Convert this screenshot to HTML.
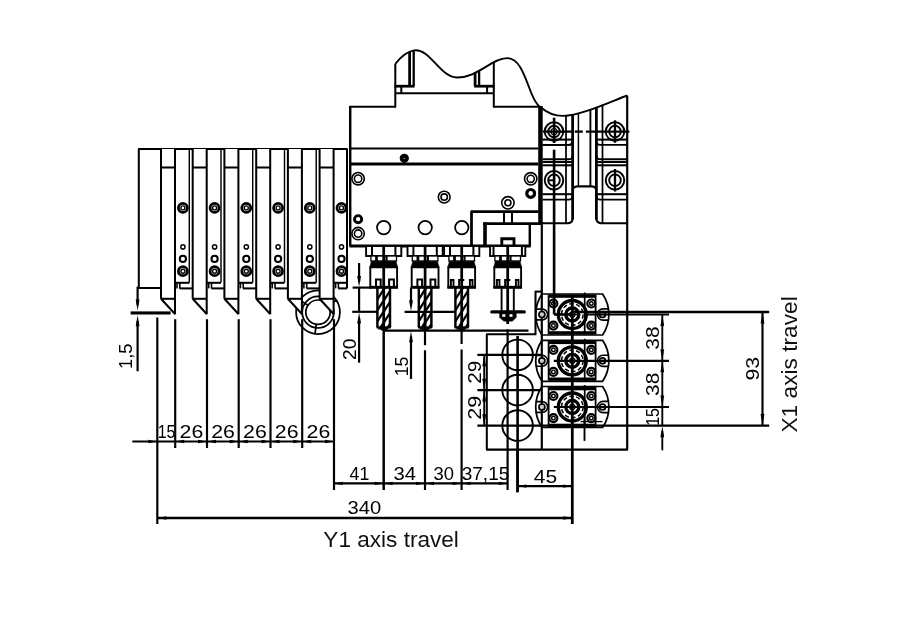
<!DOCTYPE html>
<html lang="en"><head><meta charset="utf-8"><title>Y1 / X1 axis travel – tool layout</title>
<style>
html,body{margin:0;padding:0;background:#fff}
svg{display:block;filter:grayscale(1)}
svg line,svg path,svg circle,svg ellipse,svg rect,svg polygon{stroke-linecap:butt}
text{font-family:"Liberation Sans",sans-serif;fill:#000;stroke:none}
text.t{fill:#111}
</style></head>
<body>
<svg width="899" height="627" viewBox="0 0 899 627" fill="none" stroke="#000">
<rect x="0" y="0" width="899" height="627" fill="#fff" stroke="none"/>
<circle cx="318.0" cy="312.2" r="21.9" stroke-width="1.74" fill="none"/>
<circle cx="318.0" cy="312.2" r="15.8" stroke-width="1.74" fill="none"/>
<circle cx="318.0" cy="312.2" r="12.2" stroke-width="1.74" fill="none"/>
<line x1="316.3" y1="324.3" x2="315.0" y2="333.9" stroke-width="1.74" />
<line x1="307.9" y1="305.4" x2="299.8" y2="300.0" stroke-width="1.74" />
<line x1="328.2" y1="305.6" x2="336.4" y2="300.3" stroke-width="1.74" />
<line x1="138.1" y1="149.0" x2="347.7" y2="149.0" stroke-width="2.03" />
<line x1="138.8" y1="149.0" x2="138.8" y2="288.0" stroke-width="2.03" />
<line x1="137.0" y1="288.0" x2="161.0" y2="288.0" stroke-width="2.03" />
<polygon points="161.0,149.0 175.0,149.0 175.0,314.0 161.0,298.8" stroke-width="0" fill="#fff"/>
<line x1="161.0" y1="149.0" x2="161.0" y2="298.8" stroke-width="2.03" />
<line x1="175.0" y1="149.0" x2="175.0" y2="314.3" stroke-width="2.03" />
<line x1="189.3" y1="149.0" x2="189.3" y2="282.6" stroke-width="1.45" />
<line x1="161.0" y1="167.5" x2="175.0" y2="167.5" stroke-width="2.03" />
<line x1="161.0" y1="298.8" x2="175.0" y2="298.8" stroke-width="2.03" />
<line x1="161.0" y1="298.8" x2="175.0" y2="314.0" stroke-width="2.03" />
<line x1="175.0" y1="282.8" x2="189.3" y2="282.8" stroke-width="2.03" />
<line x1="177.0" y1="282.8" x2="177.0" y2="288.4" stroke-width="1.59" />
<line x1="179.8" y1="282.8" x2="179.8" y2="288.4" stroke-width="1.59" />
<line x1="179.6" y1="288.4" x2="192.7" y2="288.4" stroke-width="2.03" />
<circle cx="182.9" cy="207.9" r="4.5" stroke-width="2.75" fill="none"/>
<circle cx="182.9" cy="207.9" r="2.0" stroke-width="1.38" fill="none"/>
<circle cx="182.9" cy="271.2" r="4.5" stroke-width="2.75" fill="none"/>
<circle cx="182.9" cy="271.2" r="2.0" stroke-width="1.38" fill="none"/>
<circle cx="182.9" cy="246.9" r="2.1" stroke-width="1.45" fill="none"/>
<circle cx="182.9" cy="258.9" r="3.1" stroke-width="2.03" fill="none"/>
<polygon points="192.7,149.0 206.7,149.0 206.7,314.0 192.7,298.8" stroke-width="0" fill="#fff"/>
<line x1="192.7" y1="149.0" x2="192.7" y2="298.8" stroke-width="2.03" />
<line x1="206.7" y1="149.0" x2="206.7" y2="314.3" stroke-width="2.03" />
<line x1="221.0" y1="149.0" x2="221.0" y2="282.6" stroke-width="1.45" />
<line x1="192.7" y1="167.5" x2="206.7" y2="167.5" stroke-width="2.03" />
<line x1="192.7" y1="298.8" x2="206.7" y2="298.8" stroke-width="2.03" />
<line x1="192.7" y1="298.8" x2="206.7" y2="314.0" stroke-width="2.03" />
<line x1="206.7" y1="282.8" x2="221.0" y2="282.8" stroke-width="2.03" />
<line x1="208.7" y1="282.8" x2="208.7" y2="288.4" stroke-width="1.59" />
<line x1="211.5" y1="282.8" x2="211.5" y2="288.4" stroke-width="1.59" />
<line x1="211.3" y1="288.4" x2="224.4" y2="288.4" stroke-width="2.03" />
<circle cx="214.6" cy="207.9" r="4.5" stroke-width="2.75" fill="none"/>
<circle cx="214.6" cy="207.9" r="2.0" stroke-width="1.38" fill="none"/>
<circle cx="214.6" cy="271.2" r="4.5" stroke-width="2.75" fill="none"/>
<circle cx="214.6" cy="271.2" r="2.0" stroke-width="1.38" fill="none"/>
<circle cx="214.6" cy="246.9" r="2.1" stroke-width="1.45" fill="none"/>
<circle cx="214.6" cy="258.9" r="3.1" stroke-width="2.03" fill="none"/>
<polygon points="224.4,149.0 238.4,149.0 238.4,314.0 224.4,298.8" stroke-width="0" fill="#fff"/>
<line x1="224.4" y1="149.0" x2="224.4" y2="298.8" stroke-width="2.03" />
<line x1="238.4" y1="149.0" x2="238.4" y2="314.3" stroke-width="2.03" />
<line x1="252.7" y1="149.0" x2="252.7" y2="282.6" stroke-width="1.45" />
<line x1="224.4" y1="167.5" x2="238.4" y2="167.5" stroke-width="2.03" />
<line x1="224.4" y1="298.8" x2="238.4" y2="298.8" stroke-width="2.03" />
<line x1="224.4" y1="298.8" x2="238.4" y2="314.0" stroke-width="2.03" />
<line x1="238.4" y1="282.8" x2="252.7" y2="282.8" stroke-width="2.03" />
<line x1="240.4" y1="282.8" x2="240.4" y2="288.4" stroke-width="1.59" />
<line x1="243.2" y1="282.8" x2="243.2" y2="288.4" stroke-width="1.59" />
<line x1="243.0" y1="288.4" x2="256.2" y2="288.4" stroke-width="2.03" />
<circle cx="246.3" cy="207.9" r="4.5" stroke-width="2.75" fill="none"/>
<circle cx="246.3" cy="207.9" r="2.0" stroke-width="1.38" fill="none"/>
<circle cx="246.3" cy="271.2" r="4.5" stroke-width="2.75" fill="none"/>
<circle cx="246.3" cy="271.2" r="2.0" stroke-width="1.38" fill="none"/>
<circle cx="246.3" cy="246.9" r="2.1" stroke-width="1.45" fill="none"/>
<circle cx="246.3" cy="258.9" r="3.1" stroke-width="2.03" fill="none"/>
<polygon points="256.2,149.0 270.2,149.0 270.2,314.0 256.2,298.8" stroke-width="0" fill="#fff"/>
<line x1="256.2" y1="149.0" x2="256.2" y2="298.8" stroke-width="2.03" />
<line x1="270.2" y1="149.0" x2="270.2" y2="314.3" stroke-width="2.03" />
<line x1="284.5" y1="149.0" x2="284.5" y2="282.6" stroke-width="1.45" />
<line x1="256.2" y1="167.5" x2="270.2" y2="167.5" stroke-width="2.03" />
<line x1="256.2" y1="298.8" x2="270.2" y2="298.8" stroke-width="2.03" />
<line x1="256.2" y1="298.8" x2="270.2" y2="314.0" stroke-width="2.03" />
<line x1="270.2" y1="282.8" x2="284.5" y2="282.8" stroke-width="2.03" />
<line x1="272.2" y1="282.8" x2="272.2" y2="288.4" stroke-width="1.59" />
<line x1="275.0" y1="282.8" x2="275.0" y2="288.4" stroke-width="1.59" />
<line x1="274.8" y1="288.4" x2="287.9" y2="288.4" stroke-width="2.03" />
<circle cx="278.1" cy="207.9" r="4.5" stroke-width="2.75" fill="none"/>
<circle cx="278.1" cy="207.9" r="2.0" stroke-width="1.38" fill="none"/>
<circle cx="278.1" cy="271.2" r="4.5" stroke-width="2.75" fill="none"/>
<circle cx="278.1" cy="271.2" r="2.0" stroke-width="1.38" fill="none"/>
<circle cx="278.1" cy="246.9" r="2.1" stroke-width="1.45" fill="none"/>
<circle cx="278.1" cy="258.9" r="3.1" stroke-width="2.03" fill="none"/>
<polygon points="287.9,149.0 301.9,149.0 301.9,314.0 287.9,298.8" stroke-width="0" fill="#fff"/>
<line x1="287.9" y1="149.0" x2="287.9" y2="298.8" stroke-width="2.03" />
<line x1="301.9" y1="149.0" x2="301.9" y2="314.3" stroke-width="2.03" />
<line x1="316.2" y1="149.0" x2="316.2" y2="282.6" stroke-width="1.45" />
<line x1="287.9" y1="167.5" x2="301.9" y2="167.5" stroke-width="2.03" />
<line x1="287.9" y1="298.8" x2="301.9" y2="298.8" stroke-width="2.03" />
<line x1="287.9" y1="298.8" x2="301.9" y2="314.0" stroke-width="2.03" />
<line x1="301.9" y1="282.8" x2="316.2" y2="282.8" stroke-width="2.03" />
<line x1="303.9" y1="282.8" x2="303.9" y2="288.4" stroke-width="1.59" />
<line x1="306.7" y1="282.8" x2="306.7" y2="288.4" stroke-width="1.59" />
<line x1="306.5" y1="288.4" x2="319.6" y2="288.4" stroke-width="2.03" />
<circle cx="309.8" cy="207.9" r="4.5" stroke-width="2.75" fill="none"/>
<circle cx="309.8" cy="207.9" r="2.0" stroke-width="1.38" fill="none"/>
<circle cx="309.8" cy="271.2" r="4.5" stroke-width="2.75" fill="none"/>
<circle cx="309.8" cy="271.2" r="2.0" stroke-width="1.38" fill="none"/>
<circle cx="309.8" cy="246.9" r="2.1" stroke-width="1.45" fill="none"/>
<circle cx="309.8" cy="258.9" r="3.1" stroke-width="2.03" fill="none"/>
<polygon points="319.6,149.0 333.6,149.0 333.6,314.0 319.6,298.8" stroke-width="0" fill="#fff"/>
<line x1="319.6" y1="149.0" x2="319.6" y2="298.8" stroke-width="2.03" />
<line x1="333.6" y1="149.0" x2="333.6" y2="314.3" stroke-width="2.03" />
<line x1="319.6" y1="167.5" x2="333.6" y2="167.5" stroke-width="2.03" />
<line x1="319.6" y1="298.8" x2="333.6" y2="298.8" stroke-width="2.03" />
<line x1="319.6" y1="298.8" x2="333.6" y2="314.0" stroke-width="2.03" />
<line x1="333.6" y1="282.8" x2="347.0" y2="282.8" stroke-width="2.03" />
<line x1="335.6" y1="282.8" x2="335.6" y2="288.4" stroke-width="1.59" />
<line x1="338.4" y1="282.8" x2="338.4" y2="288.4" stroke-width="1.59" />
<line x1="338.2" y1="288.4" x2="347.0" y2="288.4" stroke-width="2.03" />
<circle cx="341.5" cy="207.9" r="4.5" stroke-width="2.75" fill="none"/>
<circle cx="341.5" cy="207.9" r="2.0" stroke-width="1.38" fill="none"/>
<circle cx="341.5" cy="271.2" r="4.5" stroke-width="2.75" fill="none"/>
<circle cx="341.5" cy="271.2" r="2.0" stroke-width="1.38" fill="none"/>
<circle cx="341.5" cy="246.9" r="2.1" stroke-width="1.45" fill="none"/>
<circle cx="341.5" cy="258.9" r="3.1" stroke-width="2.03" fill="none"/>
<line x1="347.0" y1="149.0" x2="347.0" y2="288.4" stroke-width="2.03" />
<line x1="350.2" y1="106.0" x2="350.2" y2="246.0" stroke-width="2.46" />
<line x1="349.4" y1="106.7" x2="396.0" y2="106.7" stroke-width="2.03" />
<line x1="395.3" y1="63.8" x2="395.3" y2="107.4" stroke-width="2.03" />
<path d="M395.3,63.8 C400,58 407,51.5 414,50.4 C430,48 440,77.5 457,77.5 C478,77.5 492,58.1 507.2,58.1 C526,58.1 528,100 541,107.5 C548,113.5 556,116 563,115.9 C580,115.5 605,104 627.1,95.5" stroke-width="1.89" fill="none" />
<line x1="409.6" y1="52.0" x2="409.6" y2="86.2" stroke-width="2.75" />
<line x1="413.7" y1="50.4" x2="413.7" y2="86.2" stroke-width="2.32" />
<line x1="394.6" y1="86.2" x2="414.5" y2="86.2" stroke-width="2.75" />
<line x1="401.3" y1="86.2" x2="401.3" y2="93.3" stroke-width="2.03" />
<line x1="395.3" y1="93.3" x2="493.8" y2="93.3" stroke-width="2.03" />
<line x1="475.1" y1="72.5" x2="475.1" y2="86.2" stroke-width="2.75" />
<line x1="479.1" y1="70.5" x2="479.1" y2="86.2" stroke-width="2.32" />
<line x1="474.2" y1="86.2" x2="494.5" y2="86.2" stroke-width="2.75" />
<line x1="487.1" y1="86.2" x2="487.1" y2="93.3" stroke-width="2.03" />
<line x1="493.8" y1="62.0" x2="493.8" y2="107.4" stroke-width="2.03" />
<line x1="493.1" y1="106.7" x2="538.7" y2="106.7" stroke-width="2.03" />
<rect x="538.2" y="106" width="4.5" height="117" fill="#000" stroke="none"/>
<line x1="350.2" y1="148.5" x2="538.2" y2="148.5" stroke-width="1.89" />
<line x1="350.2" y1="164.0" x2="538.2" y2="164.0" stroke-width="2.90" />
<line x1="349.4" y1="246.0" x2="530.5" y2="246.0" stroke-width="2.90" />
<circle cx="404.3" cy="158.3" r="2.6" stroke-width="4.06" fill="none"/>
<circle cx="358.1" cy="178.7" r="6.2" stroke-width="1.59" fill="none"/>
<circle cx="358.1" cy="178.7" r="3.7" stroke-width="1.59" fill="none"/>
<circle cx="358.1" cy="233.6" r="6.2" stroke-width="1.59" fill="none"/>
<circle cx="358.1" cy="233.6" r="3.7" stroke-width="1.59" fill="none"/>
<circle cx="444.2" cy="197.1" r="5.9" stroke-width="1.59" fill="none"/>
<circle cx="444.2" cy="197.1" r="3.2" stroke-width="1.59" fill="none"/>
<circle cx="530.7" cy="178.8" r="6.2" stroke-width="1.59" fill="none"/>
<circle cx="530.7" cy="178.8" r="3.6" stroke-width="1.59" fill="none"/>
<circle cx="507.9" cy="202.8" r="6.2" stroke-width="1.59" fill="none"/>
<circle cx="507.9" cy="202.8" r="3.0" stroke-width="1.59" fill="none"/>
<circle cx="358.1" cy="219.2" r="3.6" stroke-width="2.90" fill="none"/>
<circle cx="530.7" cy="193.4" r="3.9" stroke-width="3.19" fill="none"/>
<circle cx="383.7" cy="227.6" r="6.7" stroke-width="1.74" fill="none"/>
<circle cx="425.2" cy="227.6" r="6.7" stroke-width="1.74" fill="none"/>
<circle cx="461.8" cy="227.6" r="6.7" stroke-width="1.74" fill="none"/>
<line x1="470.6" y1="211.6" x2="538.7" y2="211.6" stroke-width="2.90" />
<line x1="471.5" y1="211.6" x2="471.5" y2="246.0" stroke-width="2.75" />
<rect x="483.2" y="222.4" width="3.6" height="23.6" fill="#000" stroke="none"/>
<line x1="483.2" y1="223.5" x2="541.0" y2="223.5" stroke-width="2.75" />
<line x1="529.8" y1="223.5" x2="529.8" y2="246.8" stroke-width="2.46" />
<line x1="504.0" y1="211.6" x2="504.0" y2="223.5" stroke-width="2.03" />
<line x1="512.0" y1="211.6" x2="512.0" y2="223.5" stroke-width="2.03" />
<path d="M501.8,246 V238.8 H514 V246" stroke-width="2.90" fill="none" />
<rect x="366.1" y="246" width="35.2" height="10" fill="#fff" stroke-width="1.9"/>
<line x1="372.0" y1="246.0" x2="372.0" y2="256.0" stroke-width="2.03" />
<line x1="395.4" y1="246.0" x2="395.4" y2="256.0" stroke-width="2.03" />
<rect x="370.9" y="256" width="25.6" height="5" fill="#fff" stroke-width="1.3"/>
<line x1="376.5" y1="256.0" x2="376.5" y2="261.0" stroke-width="2.75" />
<line x1="386.5" y1="256.0" x2="386.5" y2="261.0" stroke-width="2.17" />
<polygon points="371.4,261.2 396.0,261.2 397.7,267.3 369.7,267.3" stroke-width="0.5" fill="#000"/>
<rect x="370.3" y="267.3" width="26.8" height="20" fill="#fff" stroke-width="1.9"/>
<line x1="369.4" y1="287.3" x2="398.0" y2="287.3" stroke-width="2.90" />
<path d="M376.0,287 V279.6 H380.7 V287" stroke-width="2.03" fill="none" />
<path d="M389.1,287 V279.6 H393.9 V287" stroke-width="2.03" fill="none" />
<clipPath id="c383"><rect x="377.4" y="287.3" width="12.6" height="42.1"/></clipPath>
<g clip-path="url(#c383)">
<line x1="377.4" y1="288.3" x2="383.7" y2="278.3" stroke-width="2.17" />
<line x1="383.7" y1="289.8" x2="390.0" y2="279.8" stroke-width="2.17" />
<line x1="377.4" y1="299.3" x2="383.7" y2="289.3" stroke-width="2.17" />
<line x1="383.7" y1="300.8" x2="390.0" y2="290.8" stroke-width="2.17" />
<line x1="377.4" y1="310.3" x2="383.7" y2="300.3" stroke-width="2.17" />
<line x1="383.7" y1="311.8" x2="390.0" y2="301.8" stroke-width="2.17" />
<line x1="377.4" y1="321.3" x2="383.7" y2="311.3" stroke-width="2.17" />
<line x1="383.7" y1="322.8" x2="390.0" y2="312.8" stroke-width="2.17" />
<line x1="377.4" y1="332.3" x2="383.7" y2="322.3" stroke-width="2.17" />
<line x1="383.7" y1="333.8" x2="390.0" y2="323.8" stroke-width="2.17" />
<line x1="377.4" y1="343.3" x2="383.7" y2="333.3" stroke-width="2.17" />
<line x1="383.7" y1="344.8" x2="390.0" y2="334.8" stroke-width="2.17" />
<line x1="377.4" y1="354.3" x2="383.7" y2="344.3" stroke-width="2.17" />
<line x1="383.7" y1="355.8" x2="390.0" y2="345.8" stroke-width="2.17" />
</g>
<line x1="377.4" y1="287.3" x2="377.4" y2="327.4" stroke-width="2.46" />
<line x1="390.0" y1="287.3" x2="390.0" y2="327.4" stroke-width="2.46" />
<line x1="376.6" y1="327.4" x2="390.8" y2="327.4" stroke-width="2.17" />
<path d="M379.9,327.4 Q383.7,332.9 387.5,327.4" stroke-width="2.03" fill="none" />
<line x1="383.7" y1="245.0" x2="383.7" y2="331.0" stroke-width="2.75" />
<rect x="407.5" y="246" width="35.2" height="10" fill="#fff" stroke-width="1.9"/>
<line x1="413.4" y1="246.0" x2="413.4" y2="256.0" stroke-width="2.03" />
<line x1="436.8" y1="246.0" x2="436.8" y2="256.0" stroke-width="2.03" />
<rect x="412.3" y="256" width="25.6" height="5" fill="#fff" stroke-width="1.3"/>
<line x1="417.9" y1="256.0" x2="417.9" y2="261.0" stroke-width="2.75" />
<line x1="427.9" y1="256.0" x2="427.9" y2="261.0" stroke-width="2.17" />
<polygon points="412.8,261.2 437.4,261.2 439.1,267.3 411.1,267.3" stroke-width="0.5" fill="#000"/>
<rect x="411.7" y="267.3" width="26.8" height="20" fill="#fff" stroke-width="1.9"/>
<line x1="410.8" y1="287.3" x2="439.4" y2="287.3" stroke-width="2.90" />
<path d="M417.4,287 V279.6 H422.1 V287" stroke-width="2.03" fill="none" />
<path d="M430.5,287 V279.6 H435.3 V287" stroke-width="2.03" fill="none" />
<clipPath id="c425"><rect x="418.8" y="287.3" width="12.6" height="42.1"/></clipPath>
<g clip-path="url(#c425)">
<line x1="418.8" y1="288.3" x2="425.1" y2="278.3" stroke-width="2.17" />
<line x1="425.1" y1="289.8" x2="431.4" y2="279.8" stroke-width="2.17" />
<line x1="418.8" y1="299.3" x2="425.1" y2="289.3" stroke-width="2.17" />
<line x1="425.1" y1="300.8" x2="431.4" y2="290.8" stroke-width="2.17" />
<line x1="418.8" y1="310.3" x2="425.1" y2="300.3" stroke-width="2.17" />
<line x1="425.1" y1="311.8" x2="431.4" y2="301.8" stroke-width="2.17" />
<line x1="418.8" y1="321.3" x2="425.1" y2="311.3" stroke-width="2.17" />
<line x1="425.1" y1="322.8" x2="431.4" y2="312.8" stroke-width="2.17" />
<line x1="418.8" y1="332.3" x2="425.1" y2="322.3" stroke-width="2.17" />
<line x1="425.1" y1="333.8" x2="431.4" y2="323.8" stroke-width="2.17" />
<line x1="418.8" y1="343.3" x2="425.1" y2="333.3" stroke-width="2.17" />
<line x1="425.1" y1="344.8" x2="431.4" y2="334.8" stroke-width="2.17" />
<line x1="418.8" y1="354.3" x2="425.1" y2="344.3" stroke-width="2.17" />
<line x1="425.1" y1="355.8" x2="431.4" y2="345.8" stroke-width="2.17" />
</g>
<line x1="418.8" y1="287.3" x2="418.8" y2="327.4" stroke-width="2.46" />
<line x1="431.4" y1="287.3" x2="431.4" y2="327.4" stroke-width="2.46" />
<line x1="418.0" y1="327.4" x2="432.2" y2="327.4" stroke-width="2.17" />
<path d="M421.3,327.4 Q425.1,332.9 428.9,327.4" stroke-width="2.03" fill="none" />
<line x1="425.1" y1="245.0" x2="425.1" y2="331.0" stroke-width="2.75" />
<rect x="444.1" y="246" width="35.2" height="10" fill="#fff" stroke-width="1.9"/>
<line x1="450.0" y1="246.0" x2="450.0" y2="256.0" stroke-width="2.03" />
<line x1="473.4" y1="246.0" x2="473.4" y2="256.0" stroke-width="2.03" />
<rect x="448.9" y="256" width="25.6" height="5" fill="#fff" stroke-width="1.3"/>
<line x1="454.5" y1="256.0" x2="454.5" y2="261.0" stroke-width="2.75" />
<line x1="464.5" y1="256.0" x2="464.5" y2="261.0" stroke-width="2.17" />
<polygon points="449.4,261.2 474.0,261.2 475.7,267.3 447.7,267.3" stroke-width="0.5" fill="#000"/>
<rect x="448.3" y="267.3" width="26.8" height="20" fill="#fff" stroke-width="1.9"/>
<line x1="447.4" y1="287.3" x2="476.0" y2="287.3" stroke-width="2.90" />
<path d="M450.9,287 V280 H453.5 V287" stroke-width="1.89" fill="none" />
<path d="M459.1,287 V280 H464.3" stroke-width="1.89" fill="none" />
<path d="M469.9,287 V280 H472.5 V287" stroke-width="1.89" fill="none" />
<clipPath id="c461"><rect x="455.4" y="287.3" width="12.6" height="42.1"/></clipPath>
<g clip-path="url(#c461)">
<line x1="455.4" y1="288.3" x2="461.7" y2="278.3" stroke-width="2.17" />
<line x1="461.7" y1="289.8" x2="468.0" y2="279.8" stroke-width="2.17" />
<line x1="455.4" y1="299.3" x2="461.7" y2="289.3" stroke-width="2.17" />
<line x1="461.7" y1="300.8" x2="468.0" y2="290.8" stroke-width="2.17" />
<line x1="455.4" y1="310.3" x2="461.7" y2="300.3" stroke-width="2.17" />
<line x1="461.7" y1="311.8" x2="468.0" y2="301.8" stroke-width="2.17" />
<line x1="455.4" y1="321.3" x2="461.7" y2="311.3" stroke-width="2.17" />
<line x1="461.7" y1="322.8" x2="468.0" y2="312.8" stroke-width="2.17" />
<line x1="455.4" y1="332.3" x2="461.7" y2="322.3" stroke-width="2.17" />
<line x1="461.7" y1="333.8" x2="468.0" y2="323.8" stroke-width="2.17" />
<line x1="455.4" y1="343.3" x2="461.7" y2="333.3" stroke-width="2.17" />
<line x1="461.7" y1="344.8" x2="468.0" y2="334.8" stroke-width="2.17" />
<line x1="455.4" y1="354.3" x2="461.7" y2="344.3" stroke-width="2.17" />
<line x1="461.7" y1="355.8" x2="468.0" y2="345.8" stroke-width="2.17" />
</g>
<line x1="455.4" y1="287.3" x2="455.4" y2="327.4" stroke-width="2.46" />
<line x1="468.0" y1="287.3" x2="468.0" y2="327.4" stroke-width="2.46" />
<line x1="454.6" y1="327.4" x2="468.8" y2="327.4" stroke-width="2.17" />
<path d="M457.9,327.4 Q461.7,332.9 465.5,327.4" stroke-width="2.03" fill="none" />
<line x1="461.7" y1="245.0" x2="461.7" y2="331.0" stroke-width="2.75" />
<rect x="490.1" y="246" width="35.2" height="10" fill="#fff" stroke-width="1.9"/>
<line x1="493.5" y1="246.0" x2="493.5" y2="256.0" stroke-width="2.03" />
<line x1="521.9" y1="246.0" x2="521.9" y2="256.0" stroke-width="2.03" />
<rect x="494.9" y="256" width="25.6" height="5" fill="#fff" stroke-width="1.3"/>
<line x1="500.5" y1="256.0" x2="500.5" y2="261.0" stroke-width="2.75" />
<line x1="510.5" y1="256.0" x2="510.5" y2="261.0" stroke-width="2.17" />
<polygon points="495.4,261.2 520.0,261.2 521.7,267.3 493.7,267.3" stroke-width="0.5" fill="#000"/>
<rect x="494.3" y="267.3" width="26.8" height="20" fill="#fff" stroke-width="1.9"/>
<line x1="493.4" y1="287.3" x2="522.0" y2="287.3" stroke-width="2.90" />
<path d="M496.9,287 V280 H499.5 V287" stroke-width="1.89" fill="none" />
<path d="M505.1,287 V280 H510.3" stroke-width="1.89" fill="none" />
<path d="M515.9,287 V280 H518.5 V287" stroke-width="1.89" fill="none" />
<line x1="501.6" y1="287.3" x2="501.6" y2="310.8" stroke-width="1.89" />
<line x1="513.8" y1="287.3" x2="513.8" y2="310.8" stroke-width="1.89" />
<line x1="507.7" y1="245.0" x2="507.7" y2="324.0" stroke-width="2.75" />
<rect x="490.2" y="310.2" width="35.7" height="3.4" rx="1.7" fill="#000" stroke="none"/>
<polygon points="499.5,313.0 516.3,313.0 516.3,317.6 512.3,321.2 503.9,321.2 499.5,317.6" stroke-width="0.4" fill="#000"/>
<rect x="502.3" y="314.2" width="3.0" height="2.6" fill="#fff" stroke="none"/>
<rect x="509.5" y="314.2" width="3.0" height="2.6" fill="#fff" stroke="none"/>
<line x1="627.2" y1="95.5" x2="627.2" y2="449.6" stroke-width="2.17" />
<line x1="541.8" y1="222.0" x2="541.8" y2="449.6" stroke-width="2.17" />
<line x1="554.1" y1="117.7" x2="554.1" y2="143.0" stroke-width="2.61" />
<line x1="554.1" y1="149.7" x2="554.1" y2="314.4" stroke-width="2.61" />
<line x1="566.0" y1="115.6" x2="566.0" y2="223.0" stroke-width="1.74" />
<line x1="572.6" y1="114.6" x2="572.6" y2="219.5" stroke-width="2.75" />
<line x1="578.4" y1="113.2" x2="578.4" y2="186.4" stroke-width="1.45" />
<line x1="590.4" y1="109.2" x2="590.4" y2="186.4" stroke-width="1.89" />
<line x1="596.4" y1="107.0" x2="596.4" y2="219.5" stroke-width="2.75" />
<line x1="602.5" y1="104.6" x2="602.5" y2="223.0" stroke-width="1.74" />
<path d="M572.6,190.5 Q573,186.6 577.2,186.4 H591.8 Q596,186.6 596.4,190.5" stroke-width="2.32" fill="none" />
<path d="M542.5,144.9 H569 Q572.6,144.9 572.6,141.3" stroke-width="1.89" fill="none" />
<line x1="542.5" y1="139.6" x2="572.6" y2="139.6" stroke-width="2.03" />
<line x1="596.4" y1="139.6" x2="627.2" y2="139.6" stroke-width="2.03" />
<line x1="542.5" y1="162.0" x2="572.6" y2="162.0" stroke-width="2.03" />
<line x1="596.4" y1="162.0" x2="627.2" y2="162.0" stroke-width="2.03" />
<line x1="542.5" y1="165.3" x2="572.6" y2="165.3" stroke-width="2.03" />
<line x1="596.4" y1="165.3" x2="627.2" y2="165.3" stroke-width="2.03" />
<line x1="542.5" y1="194.2" x2="572.6" y2="194.2" stroke-width="2.03" />
<line x1="596.4" y1="194.2" x2="627.2" y2="194.2" stroke-width="2.03" />
<path d="M542.5,144.9 H569.2 Q572.6,144.6 572.6,141.2" stroke-width="1.89" fill="none" />
<path d="M542.5,159.3 H569.2 Q572.6,159.0 572.6,155.5" stroke-width="1.89" fill="none" />
<path d="M627.2,144.9 H599.8 Q596.4,144.6 596.4,141.2" stroke-width="1.89" fill="none" />
<path d="M627.2,159.3 H599.8 Q596.4,159.0 596.4,155.5" stroke-width="1.89" fill="none" />
<path d="M542.5,199.6 H569.2 Q572.6,199.3 572.6,196.0" stroke-width="1.89" fill="none" />
<path d="M627.2,199.6 H599.8 Q596.4,199.3 596.4,196.0" stroke-width="1.89" fill="none" />
<path d="M542.5,223.2 H568.0 Q572.6,222.8 572.6,218.5" stroke-width="2.03" fill="none" />
<path d="M627.2,223.2 H601.0 Q596.4,222.8 596.4,218.5" stroke-width="2.03" fill="none" />
<circle cx="554.0" cy="131.6" r="9.3" stroke-width="1.89" fill="none"/>
<circle cx="554.0" cy="131.6" r="5.8" stroke-width="1.89" fill="none"/>
<circle cx="615.0" cy="131.6" r="9.3" stroke-width="1.89" fill="none"/>
<circle cx="615.0" cy="131.6" r="5.8" stroke-width="1.89" fill="none"/>
<circle cx="554.0" cy="131.6" r="3.1" stroke-width="1.16" fill="none"/>
<line x1="615.0" y1="120.3" x2="615.0" y2="142.8" stroke-width="2.32" />
<line x1="543.0" y1="131.6" x2="571.8" y2="131.6" stroke-width="2.32" />
<line x1="574.8" y1="131.6" x2="582.8" y2="131.6" stroke-width="2.32" />
<line x1="585.9" y1="131.6" x2="629.4" y2="131.6" stroke-width="2.32" />
<circle cx="554.0" cy="180.3" r="9.3" stroke-width="1.89" fill="none"/>
<circle cx="554.0" cy="180.3" r="5.8" stroke-width="1.89" fill="none"/>
<circle cx="615.0" cy="180.3" r="9.3" stroke-width="1.89" fill="none"/>
<circle cx="615.0" cy="180.3" r="5.8" stroke-width="1.89" fill="none"/>
<line x1="549.0" y1="180.3" x2="554.0" y2="180.3" stroke-width="1.89" />
<line x1="615.0" y1="169.0" x2="615.0" y2="191.5" stroke-width="2.32" />
<line x1="534.8" y1="291.6" x2="541.8" y2="291.6" stroke-width="2.03" />
<path d="M542.0,294.0 H602.6 A36.6,36.6 0 0 1 602.6,335.0 H542.0 A36.6,36.6 0 0 1 542.0,294.0 Z" stroke-width="1.74" fill="none" />
<rect x="548.6" y="295.6" width="47" height="37.8" fill="none" stroke-width="1.8"/>
<rect x="549" y="294.6" width="46.4" height="3.2" fill="#000" stroke="none"/>
<rect x="549" y="331.2" width="46.4" height="3.2" fill="#000" stroke="none"/>
<line x1="584.7" y1="292.5" x2="584.7" y2="335.0" stroke-width="1.74" />
<circle cx="553.4" cy="303.5" r="4.0" stroke-width="2.17" fill="none"/>
<circle cx="553.4" cy="303.5" r="1.8" stroke-width="1.45" fill="none"/>
<circle cx="553.4" cy="325.6" r="4.0" stroke-width="2.17" fill="none"/>
<circle cx="553.4" cy="325.6" r="1.8" stroke-width="1.45" fill="none"/>
<circle cx="591.3" cy="303.5" r="4.0" stroke-width="2.17" fill="none"/>
<circle cx="591.3" cy="303.5" r="1.8" stroke-width="1.45" fill="none"/>
<circle cx="591.3" cy="325.6" r="4.0" stroke-width="2.17" fill="none"/>
<circle cx="591.3" cy="325.6" r="1.8" stroke-width="1.45" fill="none"/>
<circle cx="572.3" cy="314.5" r="14.0" stroke-width="3.33" fill="none"/>
<circle cx="572.3" cy="314.5" r="10.8" stroke-width="1.5" fill="none" stroke-dasharray="4.2 2.6"/>
<circle cx="572.3" cy="314.5" r="6.5" stroke-width="3.33" fill="none"/>
<circle cx="572.3" cy="314.5" r="2.6" stroke-width="1.30" fill="none"/>
<line x1="567.3" y1="314.5" x2="577.3" y2="314.5" stroke-width="1.45" />
<path d="M608.7,308.9 H603.0 A5.6,5.6 0 0 0 603.0,320.1 H608.7" stroke-width="1.59" fill="none" />
<circle cx="602.5" cy="314.5" r="3.0" stroke-width="1.7" fill="#ccc"/>
<path d="M535.9,309.1 H542.2 A5.4,5.4 0 0 1 542.2,319.9 H535.9" stroke-width="1.59" fill="none" />
<circle cx="541.9" cy="314.5" r="3.0" stroke-width="1.7" fill="#ccc"/>
<path d="M542.0,340.3 H602.6 A36.6,36.6 0 0 1 602.6,381.3 H542.0 A36.6,36.6 0 0 1 542.0,340.3 Z" stroke-width="1.74" fill="none" />
<rect x="548.6" y="341.9" width="47" height="37.8" fill="none" stroke-width="1.8"/>
<rect x="549" y="340.9" width="46.4" height="3.2" fill="#000" stroke="none"/>
<rect x="549" y="377.5" width="46.4" height="3.2" fill="#000" stroke="none"/>
<line x1="584.7" y1="338.8" x2="584.7" y2="381.3" stroke-width="1.74" />
<circle cx="553.4" cy="349.8" r="4.0" stroke-width="2.17" fill="none"/>
<circle cx="553.4" cy="349.8" r="1.8" stroke-width="1.45" fill="none"/>
<circle cx="553.4" cy="371.9" r="4.0" stroke-width="2.17" fill="none"/>
<circle cx="553.4" cy="371.9" r="1.8" stroke-width="1.45" fill="none"/>
<circle cx="591.3" cy="349.8" r="4.0" stroke-width="2.17" fill="none"/>
<circle cx="591.3" cy="349.8" r="1.8" stroke-width="1.45" fill="none"/>
<circle cx="591.3" cy="371.9" r="4.0" stroke-width="2.17" fill="none"/>
<circle cx="591.3" cy="371.9" r="1.8" stroke-width="1.45" fill="none"/>
<circle cx="572.3" cy="360.8" r="14.0" stroke-width="3.33" fill="none"/>
<circle cx="572.3" cy="360.8" r="10.8" stroke-width="1.5" fill="none" stroke-dasharray="4.2 2.6"/>
<circle cx="572.3" cy="360.8" r="6.5" stroke-width="3.33" fill="none"/>
<circle cx="572.3" cy="360.8" r="2.6" stroke-width="1.30" fill="none"/>
<line x1="567.3" y1="360.8" x2="577.3" y2="360.8" stroke-width="1.45" />
<path d="M608.7,355.2 H603.0 A5.6,5.6 0 0 0 603.0,366.4 H608.7" stroke-width="1.59" fill="none" />
<circle cx="602.5" cy="360.8" r="3.0" stroke-width="1.7" fill="#ccc"/>
<path d="M535.9,355.4 H542.2 A5.4,5.4 0 0 1 542.2,366.2 H535.9" stroke-width="1.59" fill="none" />
<circle cx="541.9" cy="360.8" r="3.0" stroke-width="1.7" fill="#ccc"/>
<path d="M542.0,386.5 H602.6 A36.6,36.6 0 0 1 602.6,427.5 H542.0 A36.6,36.6 0 0 1 542.0,386.5 Z" stroke-width="1.74" fill="none" />
<rect x="548.6" y="388.1" width="47" height="37.8" fill="none" stroke-width="1.8"/>
<rect x="549" y="387.1" width="46.4" height="3.2" fill="#000" stroke="none"/>
<rect x="549" y="423.7" width="46.4" height="3.2" fill="#000" stroke="none"/>
<line x1="584.7" y1="385.0" x2="584.7" y2="427.5" stroke-width="1.74" />
<circle cx="553.4" cy="396.0" r="4.0" stroke-width="2.17" fill="none"/>
<circle cx="553.4" cy="396.0" r="1.8" stroke-width="1.45" fill="none"/>
<circle cx="553.4" cy="418.1" r="4.0" stroke-width="2.17" fill="none"/>
<circle cx="553.4" cy="418.1" r="1.8" stroke-width="1.45" fill="none"/>
<circle cx="591.3" cy="396.0" r="4.0" stroke-width="2.17" fill="none"/>
<circle cx="591.3" cy="396.0" r="1.8" stroke-width="1.45" fill="none"/>
<circle cx="591.3" cy="418.1" r="4.0" stroke-width="2.17" fill="none"/>
<circle cx="591.3" cy="418.1" r="1.8" stroke-width="1.45" fill="none"/>
<circle cx="572.3" cy="407.0" r="14.0" stroke-width="3.33" fill="none"/>
<circle cx="572.3" cy="407.0" r="10.8" stroke-width="1.5" fill="none" stroke-dasharray="4.2 2.6"/>
<circle cx="572.3" cy="407.0" r="6.5" stroke-width="3.33" fill="none"/>
<circle cx="572.3" cy="407.0" r="2.6" stroke-width="1.30" fill="none"/>
<line x1="567.3" y1="407.0" x2="577.3" y2="407.0" stroke-width="1.45" />
<path d="M608.7,401.4 H603.0 A5.6,5.6 0 0 0 603.0,412.6 H608.7" stroke-width="1.59" fill="none" />
<circle cx="602.5" cy="407.0" r="3.0" stroke-width="1.7" fill="#ccc"/>
<path d="M535.9,401.6 H542.2 A5.4,5.4 0 0 1 542.2,412.4 H535.9" stroke-width="1.59" fill="none" />
<circle cx="541.9" cy="407.0" r="3.0" stroke-width="1.7" fill="#ccc"/>
<line x1="572.3" y1="294.5" x2="572.3" y2="524.0" stroke-width="2.75" />
<line x1="554.1" y1="314.5" x2="572.3" y2="314.5" stroke-width="2.61" />
<line x1="486.8" y1="334.2" x2="486.8" y2="449.6" stroke-width="2.03" />
<line x1="486.1" y1="334.2" x2="536.3" y2="334.2" stroke-width="2.03" />
<line x1="535.5" y1="291.6" x2="535.5" y2="334.2" stroke-width="2.03" />
<line x1="486.1" y1="449.6" x2="627.9" y2="449.6" stroke-width="2.17" />
<circle cx="517.6" cy="354.9" r="15.3" stroke-width="1.89" fill="none"/>
<circle cx="517.6" cy="390.1" r="15.3" stroke-width="1.89" fill="none"/>
<circle cx="517.6" cy="425.6" r="15.3" stroke-width="1.89" fill="none"/>
<line x1="517.6" y1="336.0" x2="517.6" y2="492.0" stroke-width="2.61" />
<line x1="477.4" y1="354.9" x2="541.8" y2="354.9" stroke-width="2.17" />
<line x1="477.4" y1="390.1" x2="541.8" y2="390.1" stroke-width="2.17" />
<line x1="477.4" y1="425.6" x2="541.8" y2="425.6" stroke-width="2.17" />
<line x1="541.8" y1="425.6" x2="769.2" y2="425.6" stroke-width="2.32" />
<line x1="584.5" y1="418.8" x2="584.5" y2="440.9" stroke-width="1.89" />
<line x1="580.6" y1="421.6" x2="602.5" y2="421.6" stroke-width="1.30" />
<rect x="130.6" y="311.4" width="40" height="3.1" fill="#000" stroke="none"/>
<line x1="137.6" y1="286.7" x2="137.6" y2="305.0" stroke-width="2.17" />
<polygon points="137.6,310.6 135.7,299.6 139.5,299.6" fill="#000" stroke="none"/>
<line x1="137.6" y1="321.0" x2="137.6" y2="371.3" stroke-width="2.17" />
<polygon points="137.6,315.2 139.5,326.2 135.7,326.2" fill="#000" stroke="none"/>
<text class="d" x="132.3" y="356.2" font-size="18.2" text-anchor="middle" textLength="25.6" lengthAdjust="spacingAndGlyphs" transform="rotate(-90 132.3 356.2)">1,5</text>
<line x1="157.3" y1="317.5" x2="157.3" y2="524.0" stroke-width="2.17" />
<line x1="175.2" y1="319.2" x2="175.2" y2="448.0" stroke-width="2.17" />
<line x1="207.0" y1="319.2" x2="207.0" y2="448.0" stroke-width="2.17" />
<line x1="238.7" y1="319.2" x2="238.7" y2="448.0" stroke-width="2.17" />
<line x1="270.5" y1="319.2" x2="270.5" y2="448.0" stroke-width="2.17" />
<line x1="302.2" y1="319.2" x2="302.2" y2="448.0" stroke-width="2.17" />
<line x1="334.0" y1="319.2" x2="334.0" y2="490.0" stroke-width="2.17" />
<line x1="132.3" y1="441.5" x2="334.0" y2="441.5" stroke-width="2.17" />
<polygon points="157.3,441.5 148.3,443.2 148.3,439.8" fill="#000" stroke="none"/>
<polygon points="175.2,441.5 184.2,439.8 184.2,443.2" fill="#000" stroke="none"/>
<polygon points="207.0,441.5 198.0,443.2 198.0,439.8" fill="#000" stroke="none"/>
<text class="d" x="191.4" y="438.0" font-size="18.2" text-anchor="middle" textLength="23.7" lengthAdjust="spacingAndGlyphs">26</text>
<polygon points="207.0,441.5 216.0,439.8 216.0,443.2" fill="#000" stroke="none"/>
<polygon points="238.7,441.5 229.7,443.2 229.7,439.8" fill="#000" stroke="none"/>
<text class="d" x="223.1" y="438.0" font-size="18.2" text-anchor="middle" textLength="23.7" lengthAdjust="spacingAndGlyphs">26</text>
<polygon points="238.7,441.5 247.7,439.8 247.7,443.2" fill="#000" stroke="none"/>
<polygon points="270.5,441.5 261.5,443.2 261.5,439.8" fill="#000" stroke="none"/>
<text class="d" x="254.9" y="438.0" font-size="18.2" text-anchor="middle" textLength="23.7" lengthAdjust="spacingAndGlyphs">26</text>
<polygon points="270.5,441.5 279.5,439.8 279.5,443.2" fill="#000" stroke="none"/>
<polygon points="302.2,441.5 293.2,443.2 293.2,439.8" fill="#000" stroke="none"/>
<text class="d" x="286.7" y="438.0" font-size="18.2" text-anchor="middle" textLength="23.7" lengthAdjust="spacingAndGlyphs">26</text>
<polygon points="302.2,441.5 311.2,439.8 311.2,443.2" fill="#000" stroke="none"/>
<polygon points="334.0,441.5 325.0,443.2 325.0,439.8" fill="#000" stroke="none"/>
<text class="d" x="318.4" y="438.0" font-size="18.2" text-anchor="middle" textLength="23.7" lengthAdjust="spacingAndGlyphs">26</text>
<text class="d" x="166.6" y="438.0" font-size="18.2" text-anchor="middle" textLength="17.7" lengthAdjust="spacingAndGlyphs">15</text>
<line x1="352.6" y1="287.6" x2="371.0" y2="287.6" stroke-width="2.17" />
<line x1="352.2" y1="311.8" x2="377.4" y2="311.8" stroke-width="2.17" />
<line x1="359.1" y1="263.0" x2="359.1" y2="282.0" stroke-width="2.17" />
<polygon points="359.1,287.0 357.2,276.0 361.0,276.0" fill="#000" stroke="none"/>
<line x1="359.1" y1="287.6" x2="359.1" y2="311.8" stroke-width="2.17" />
<line x1="359.1" y1="318.0" x2="359.1" y2="362.7" stroke-width="2.17" />
<polygon points="359.1,312.4 361.0,323.4 357.2,323.4" fill="#000" stroke="none"/>
<text class="d" x="356.3" y="349.3" font-size="18.2" text-anchor="middle" textLength="21.3" lengthAdjust="spacingAndGlyphs" transform="rotate(-90 356.3 349.3)">20</text>
<line x1="404.6" y1="311.8" x2="455.6" y2="311.8" stroke-width="2.17" />
<line x1="383.7" y1="330.7" x2="528.5" y2="330.7" stroke-width="2.17" />
<line x1="411.0" y1="287.6" x2="411.0" y2="306.0" stroke-width="2.17" />
<polygon points="411.0,311.2 409.1,300.2 412.9,300.2" fill="#000" stroke="none"/>
<line x1="411.0" y1="336.5" x2="411.0" y2="378.9" stroke-width="2.17" />
<polygon points="411.0,331.3 412.9,342.3 409.1,342.3" fill="#000" stroke="none"/>
<text class="d" x="408.2" y="366.4" font-size="18.2" text-anchor="middle" textLength="19.7" lengthAdjust="spacingAndGlyphs" transform="rotate(-90 408.2 366.4)">15</text>
<line x1="383.7" y1="331.0" x2="383.7" y2="490.0" stroke-width="2.46" />
<line x1="425.0" y1="331.0" x2="425.0" y2="345.2" stroke-width="2.17" />
<line x1="425.0" y1="350.2" x2="425.0" y2="490.0" stroke-width="2.17" />
<line x1="461.6" y1="331.0" x2="461.6" y2="344.0" stroke-width="2.17" />
<line x1="461.6" y1="349.5" x2="461.6" y2="490.0" stroke-width="2.17" />
<line x1="507.6" y1="329.2" x2="507.6" y2="490.0" stroke-width="2.17" />
<line x1="517.4" y1="449.6" x2="517.4" y2="492.5" stroke-width="2.17" />
<line x1="484.2" y1="354.9" x2="484.2" y2="425.6" stroke-width="1.89" />
<polygon points="484.2,355.3 486.1,366.3 482.3,366.3" fill="#000" stroke="none"/>
<polygon points="484.2,389.7 482.3,378.7 486.1,378.7" fill="#000" stroke="none"/>
<polygon points="484.2,390.5 486.1,401.5 482.3,401.5" fill="#000" stroke="none"/>
<polygon points="484.2,425.2 482.3,414.2 486.1,414.2" fill="#000" stroke="none"/>
<text class="d" x="480.7" y="372.2" font-size="18.2" text-anchor="middle" textLength="23.2" lengthAdjust="spacingAndGlyphs" transform="rotate(-90 480.7 372.2)">29</text>
<text class="d" x="480.7" y="407.8" font-size="18.2" text-anchor="middle" textLength="23.9" lengthAdjust="spacingAndGlyphs" transform="rotate(-90 480.7 407.8)">29</text>
<line x1="333.9" y1="483.4" x2="507.6" y2="483.4" stroke-width="2.17" />
<polygon points="333.9,483.4 342.9,481.7 342.9,485.1" fill="#000" stroke="none"/>
<polygon points="383.7,483.4 374.7,485.1 374.7,481.7" fill="#000" stroke="none"/>
<polygon points="383.7,483.4 392.7,481.7 392.7,485.1" fill="#000" stroke="none"/>
<polygon points="425.0,483.4 416.0,485.1 416.0,481.7" fill="#000" stroke="none"/>
<polygon points="425.0,483.4 434.0,481.7 434.0,485.1" fill="#000" stroke="none"/>
<polygon points="461.6,483.4 452.6,485.1 452.6,481.7" fill="#000" stroke="none"/>
<polygon points="461.6,483.4 470.6,481.7 470.6,485.1" fill="#000" stroke="none"/>
<polygon points="507.6,483.4 498.6,485.1 498.6,481.7" fill="#000" stroke="none"/>
<text class="d" x="359.4" y="480.4" font-size="18.2" text-anchor="middle" textLength="19.7" lengthAdjust="spacingAndGlyphs">41</text>
<text class="d" x="404.8" y="480.4" font-size="18.2" text-anchor="middle" textLength="22.5" lengthAdjust="spacingAndGlyphs">34</text>
<text class="d" x="443.7" y="480.4" font-size="18.2" text-anchor="middle" textLength="20.5" lengthAdjust="spacingAndGlyphs">30</text>
<text class="d" x="485.5" y="480.4" font-size="18.2" text-anchor="middle" textLength="47.5" lengthAdjust="spacingAndGlyphs">37,15</text>
<line x1="517.4" y1="486.1" x2="572.3" y2="486.1" stroke-width="2.17" />
<polygon points="517.4,486.1 526.4,484.4 526.4,487.8" fill="#000" stroke="none"/>
<polygon points="572.3,486.1 563.3,487.8 563.3,484.4" fill="#000" stroke="none"/>
<text class="d" x="545.5" y="482.6" font-size="18.2" text-anchor="middle" textLength="23.3" lengthAdjust="spacingAndGlyphs">45</text>
<line x1="157.3" y1="518.0" x2="572.3" y2="518.0" stroke-width="2.32" />
<polygon points="157.3,518.0 166.3,516.3 166.3,519.7" fill="#000" stroke="none"/>
<polygon points="572.3,518.0 563.3,519.7 563.3,516.3" fill="#000" stroke="none"/>
<text class="d" x="364.3" y="514.4" font-size="18.2" text-anchor="middle" textLength="33.7" lengthAdjust="spacingAndGlyphs">340</text>
<text class="t" x="391.1" y="546.8" font-size="21.6" text-anchor="middle" textLength="135.5" lengthAdjust="spacingAndGlyphs">Y1 axis travel</text>
<line x1="572.3" y1="311.9" x2="769.2" y2="311.9" stroke-width="2.46" />
<line x1="584.7" y1="314.5" x2="669.0" y2="314.5" stroke-width="1.89" />
<line x1="553.8" y1="360.8" x2="669.0" y2="360.8" stroke-width="2.17" />
<line x1="553.8" y1="407.0" x2="669.0" y2="407.0" stroke-width="2.17" />
<line x1="662.3" y1="314.5" x2="662.3" y2="407.0" stroke-width="1.89" />
<polygon points="662.3,315.0 664.2,326.0 660.4,326.0" fill="#000" stroke="none"/>
<polygon points="662.3,360.4 660.4,349.4 664.2,349.4" fill="#000" stroke="none"/>
<polygon points="662.3,361.2 664.2,372.2 660.4,372.2" fill="#000" stroke="none"/>
<polygon points="662.3,406.6 660.4,395.6 664.2,395.6" fill="#000" stroke="none"/>
<line x1="662.3" y1="431.0" x2="662.3" y2="450.3" stroke-width="1.89" />
<polygon points="662.3,426.2 664.2,437.2 660.4,437.2" fill="#000" stroke="none"/>
<line x1="662.3" y1="407.0" x2="662.3" y2="425.6" stroke-width="1.89" />
<text class="d" x="659.0" y="338.1" font-size="18.2" text-anchor="middle" textLength="23.3" lengthAdjust="spacingAndGlyphs" transform="rotate(-90 659.0 338.1)">38</text>
<text class="d" x="659.0" y="384.3" font-size="18.2" text-anchor="middle" textLength="23.3" lengthAdjust="spacingAndGlyphs" transform="rotate(-90 659.0 384.3)">38</text>
<text class="d" x="659.0" y="416.9" font-size="18.2" text-anchor="middle" textLength="17.8" lengthAdjust="spacingAndGlyphs" transform="rotate(-90 659.0 416.9)">15</text>
<line x1="762.5" y1="311.9" x2="762.5" y2="425.6" stroke-width="2.17" />
<polygon points="762.5,312.4 764.4,323.4 760.6,323.4" fill="#000" stroke="none"/>
<polygon points="762.5,425.1 760.6,414.1 764.4,414.1" fill="#000" stroke="none"/>
<text class="d" x="759.5" y="368.7" font-size="18.2" text-anchor="middle" textLength="23.7" lengthAdjust="spacingAndGlyphs" transform="rotate(-90 759.5 368.7)">93</text>
<text class="t" x="796.9" y="364.4" font-size="21.6" text-anchor="middle" textLength="136.3" lengthAdjust="spacingAndGlyphs" transform="rotate(-90 796.9 364.4)">X1 axis travel</text>
</svg>
</body></html>
